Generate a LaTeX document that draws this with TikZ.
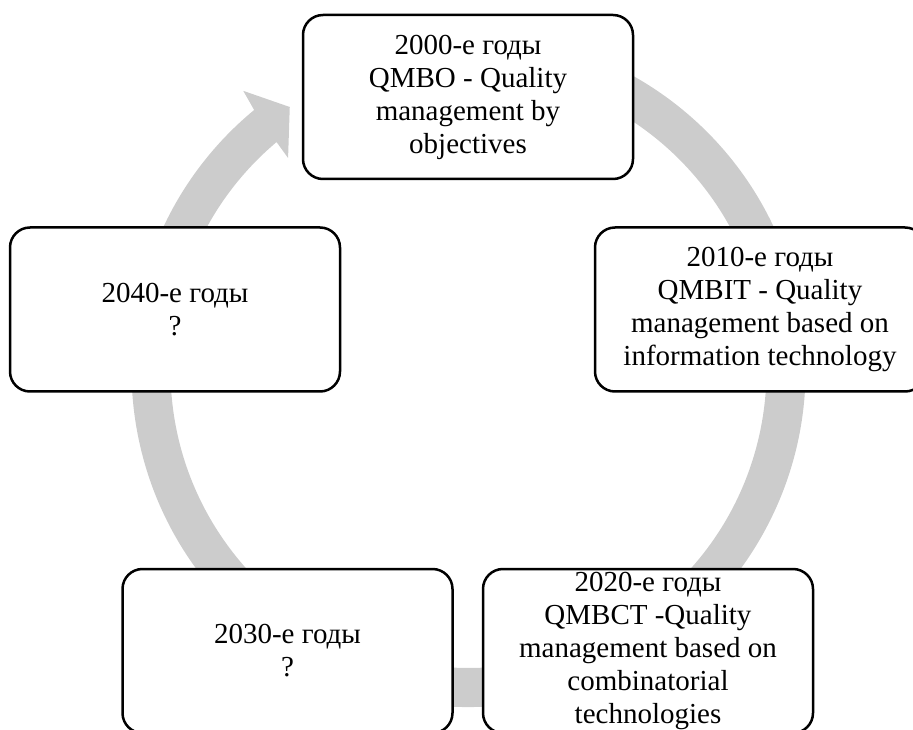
\documentclass[tikz,border=0pt]{standalone}
\usepackage{fontspec}
\setmainfont{Liberation Serif}
\definecolor{ringgray}{RGB}{204,204,204}
\begin{document}
\begin{tikzpicture}[x=1pt,y=1pt,
  box/.style={draw=black, line width=2.5pt, fill=white, rounded corners=20pt,
    minimum width=330pt, minimum height=164pt, inner sep=0pt, align=center,
    font=\fontsize{29}{33}\selectfont}]
\useasboundingbox (0,0) rectangle (913,729);
\clip (0,0) rectangle (913,729);
% ring with arrow head
\begin{scope}[shift={(468.5,359)}]
\fill[ringgray] (100:337pt) arc[start angle=100,end angle=-230.5,radius=337pt]
  -- (128.9:358.7pt) -- (124.2:318pt) -- (130.4:278.4pt) -- (130.1:298pt)
  arc[start angle=-229.9,end angle=100,radius=298pt] -- cycle;
\end{scope}
% boxes
\node[box] (n2000) at (468,632) {2000-е годы\\QMBO - Quality\\management by\\objectives};
\node[box] (n2010) at (760,419.5) {2010-е годы\\QMBIT - Quality\\management based on\\information technology};
\node[box] (n2020) at (648,78) {2020-е годы\\QMBCT -Quality\\management based on\\combinatorial\\technologies};
\node[box] (n2030) at (287.5,78) {2030-е годы\\?};
\node[box] (n2040) at (175,419.5) {2040-е годы\\?};
\end{tikzpicture}
\end{document}
